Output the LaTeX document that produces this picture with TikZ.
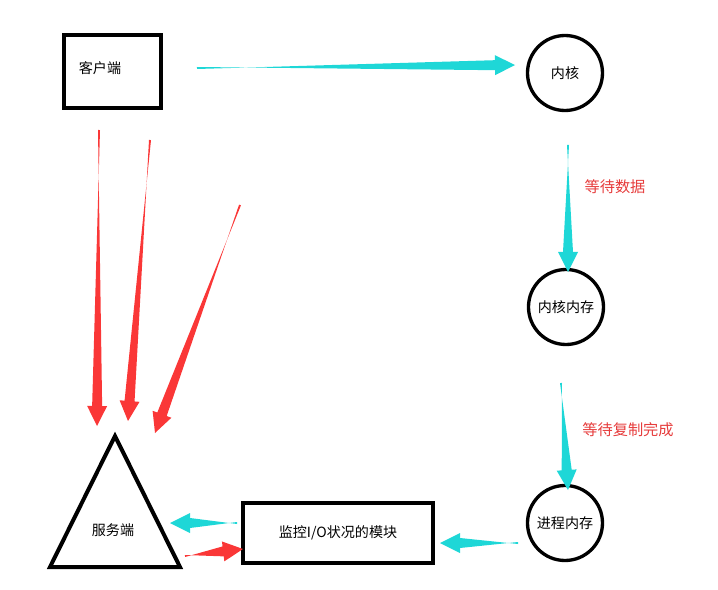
\documentclass[tikz,border=0pt]{standalone}
\usepackage{fontspec}
\setmainfont{Noto Sans CJK SC}
\usetikzlibrary{calc,positioning}
\definecolor{arrowcyan}{RGB}{30,215,215}
\definecolor{arrowred}{RGB}{250,55,55}
\definecolor{labelred}{RGB}{230,60,60}
% tapered hand-drawn arrow: colour, from, to
\newcommand\taperarrow[3]{%
  \fill[#1] ($(#2)!0.03cm!90:(#3)$)
    -- ($($(#3)!0.6cm!(#2)$)!0.15cm!-90:(#3)$)
    -- ($($(#3)!0.6cm!(#2)$)!0.3cm!-90:(#3)$)
    -- (#3)
    -- ($($(#3)!0.6cm!(#2)$)!0.3cm!90:(#3)$)
    -- ($($(#3)!0.6cm!(#2)$)!0.15cm!90:(#3)$)
    -- ($(#2)!0.03cm!-90:(#3)$) -- cycle;}
\begin{document}
\begin{tikzpicture}[x=0.03cm,y=-0.03cm,font=\fontsize{12}{14}\selectfont]
        % Setup the styles
        \tikzset{box style/.style={draw, line width=0.12cm, inner sep=0pt},
                 state style/.style={draw, circle, line width=0.1cm, minimum size=2.25cm, inner sep=0pt},
                 wait label/.style={text=labelred, font=\fontsize{13}{15}\selectfont}}
        \useasboundingbox (0,0) rectangle (718,590);

        % Draw the nodes
        \node[box style, minimum width=2.9cm, minimum height=2.2cm] at (112.5,71.5) (client) {};
        \node at (100,68) {客户端};
        \node[state style] at (565,73)  (kernel) {内核};
        \node[state style] at (566,307) (kmem)   {内核内存};
        \node[state style] at (565,523) (pmem)   {进程内存};
        \node[box style, minimum width=5.7cm, minimum height=1.8cm] at (338,532.5) (monitor) {监控I/O状况的模块};
        \draw[line width=0.12cm, line join=miter] (115,436) coordinate (apex)
            -- (180,567) -- (50,567) -- cycle;
        \node at (113,530) (server) {服务端};

        % Free ends of the arrows
        \coordinate (c1) at (197,68);  \coordinate (k1) at (515,65);
        \coordinate (k2) at (568,145); \coordinate (m1) at (568,272);
        \coordinate (m2) at (561,383); \coordinate (p1) at (568,490);
        \coordinate (p2) at (518,543); \coordinate (o1) at (440,543);
        \coordinate (o2) at (237,523); \coordinate (s1) at (170,523);
        \coordinate (s2) at (185,556); \coordinate (o3) at (243,549);
        \coordinate (r1) at (99,130);  \coordinate (t1) at (97,426);
        \coordinate (r2) at (150,140); \coordinate (t2) at (128,421);
        \coordinate (r3) at (240,205); \coordinate (t3) at (155,433);

        % Connect the nodes with arrows
        \taperarrow{arrowcyan}{c1}{k1}
        \taperarrow{arrowcyan}{k2}{m1}
        \taperarrow{arrowcyan}{m2}{p1}
        \taperarrow{arrowcyan}{p2}{o1}
        \taperarrow{arrowcyan}{o2}{s1}
        \taperarrow{arrowred}{s2}{o3}
        \taperarrow{arrowred}{r1}{t1}
        \taperarrow{arrowred}{r2}{t2}
        \taperarrow{arrowred}{r3}{t3}

        % Labels
        \node[wait label] at (615,187) {等待数据};
        \node[wait label] at (628,430) {等待复制完成};
\end{tikzpicture}
\end{document}
